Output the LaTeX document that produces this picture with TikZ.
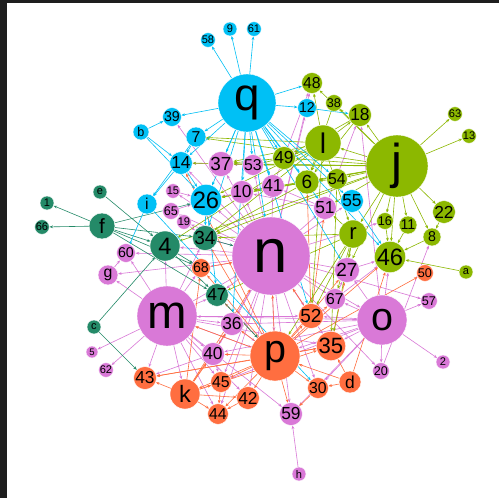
\documentclass[tikz,border=0pt]{standalone}
\usepackage{fontspec}
\setmainfont{Liberation Sans}
\usetikzlibrary{arrows.meta}
\pgfdeclarelayer{back}
\pgfdeclarelayer{bg}
\pgfsetlayers{back,bg,main}
\definecolor{cy}{RGB}{0,192,245}
\definecolor{gr}{RGB}{140,184,0}
\definecolor{dg}{RGB}{36,138,104}
\definecolor{pk}{RGB}{217,121,215}
\definecolor{orr}{RGB}{255,110,64}
\definecolor{frame}{RGB}{30,30,30}
\tikzset{
  nd/.style={circle,draw=white,line width=0.4pt,inner sep=0pt,text=black},
  ed/.style={line width=0.6pt,-{Stealth[length=3.5pt,width=2.8pt]}}
}
\newcommand\nd[5]{\pgfmathsetmacro\fsz{#4*1.58}\node[nd,fill=#5,minimum size=#4*2pt,font=\fontsize{\fsz pt}{\fsz pt}\selectfont] (v#1) at (#2,#3) {#1};}
\begin{document}
\begin{tikzpicture}[x=1pt,y=-1pt]
\useasboundingbox (0,0) rectangle (499,498);
\begin{pgfonlayer}{back}
\fill[white] (0,0) rectangle (499,498);
\fill[frame] (0,0) rectangle (499,3);
\fill[frame] (0,0) rectangle (7,498);
\end{pgfonlayer}
% cyan
\nd{q}{247}{103}{29}{cy}
\nd{58}{208}{40}{7}{cy}
\nd{9}{230}{29}{7}{cy}
\nd{61}{254}{29}{7}{cy}
\nd{39}{172}{117}{9}{cy}
\nd{b}{141}{132}{8}{cy}
\nd{7}{196}{137}{10}{cy}
\nd{14}{181}{163}{11}{cy}
\nd{26}{206}{200}{15}{cy}
\nd{i}{147}{204}{10}{cy}
\nd{12}{307}{108}{9}{cy}
\nd{55}{352}{201}{11}{cy}
% green
\nd{l}{323}{143}{18}{gr}
\nd{j}{397}{166}{31}{gr}
\nd{48}{312}{83}{10}{gr}
\nd{38}{334}{103}{8}{gr}
\nd{18}{360}{115}{11}{gr}
\nd{63}{455}{114}{7}{gr}
\nd{13}{469}{136}{7}{gr}
\nd{49}{284}{158}{11}{gr}
\nd{6}{307}{182}{12}{gr}
\nd{54}{337}{179}{10}{gr}
\nd{r}{353}{234}{14}{gr}
\nd{16}{385}{221}{8}{gr}
\nd{11}{408}{225}{9}{gr}
\nd{22}{444}{212}{11}{gr}
\nd{8}{432}{237}{9}{gr}
\nd{46}{390}{257}{15}{gr}
\nd{a}{466}{272}{7}{gr}
% dark green
\nd{f}{102}{226}{13}{dg}
\nd{1}{47}{203}{7}{dg}
\nd{66}{42}{227}{7}{dg}
\nd{e}{100}{192}{7}{dg}
\nd{4}{165}{246}{15}{dg}
\nd{34}{205}{238}{12}{dg}
\nd{47}{217}{295}{11}{dg}
\nd{c}{94}{327}{7}{dg}
% pink
\nd{n}{271}{256}{39}{pk}
\nd{m}{167}{316}{30}{pk}
\nd{o}{382}{320}{25}{pk}
\nd{37}{221}{164}{12}{pk}
\nd{53}{253}{165}{10}{pk}
\nd{41}{273}{186}{11}{pk}
\nd{10}{242}{192}{11}{pk}
\nd{15}{173}{191}{7}{pk}
\nd{65}{171}{211}{8}{pk}
\nd{19}{184}{222}{7}{pk}
\nd{51}{325}{208}{11}{pk}
\nd{27}{347}{270}{12}{pk}
\nd{67}{335}{299}{10}{pk}
\nd{57}{429}{301}{8}{pk}
\nd{2}{443}{362}{7}{pk}
\nd{20}{381}{371}{8}{pk}
\nd{59}{291}{414}{11}{pk}
\nd{h}{299}{474}{7}{pk}
\nd{60}{126}{253}{9}{pk}
\nd{g}{108}{275}{10}{pk}
\nd{5}{92}{352}{6}{pk}
\nd{62}{106}{370}{7}{pk}
\nd{36}{232}{324}{11}{pk}
\nd{40}{213}{354}{11}{pk}
% orange
\nd{p}{275}{356}{25}{orr}
\nd{k}{185}{394}{15}{orr}
\nd{52}{311}{316}{12}{orr}
\nd{35}{331}{346}{14}{orr}
\nd{d}{350}{382}{11}{orr}
\nd{30}{318}{388}{10}{orr}
\nd{43}{145}{378}{11}{orr}
\nd{45}{221}{382}{10}{orr}
\nd{44}{218}{414}{10}{orr}
\nd{42}{248}{398}{11}{orr}
\nd{68}{201}{268}{9}{orr}
\nd{50}{425}{273}{8}{orr}
\begin{pgfonlayer}{bg}
\foreach \a/\b in {m/5,m/62,m/43,m/g,m/60,m/4,m/40,m/36,m/45,m/44,m/k,m/47,m/68,m/34,m/n,m/p,m/35,m/52,m/42,m/59,
 n/37,n/10,n/41,n/53,n/12,n/51,n/27,n/67,n/52,n/35,n/o,n/57,n/20,n/30,n/59,n/42,n/45,n/44,n/40,n/36,n/47,n/68,n/4,n/34,n/19,n/65,n/15,n/60,n/26,n/39,n/16,n/14,n/p,n/g,n/55,n/48,
 o/57,o/2,o/20,o/35,o/30,o/p,o/27,o/67,o/52,o/m,o/36,o/40,o/18,o/46,o/59,o/45,
 51/10,51/41,10/26,37/14,41/10,53/37,65/26,g/60,40/36,40/45,40/43,36/p,h/59,27/46,67/46,20/8,67/27,19/34,15/26,41/48,51/18}
  \draw[ed,pk] (v\a) -- (v\b);
\foreach \a/\b in {p/52,p/35,p/30,p/59,p/42,p/45,p/44,p/40,p/43,p/36,p/n,p/27,p/46,p/50,p/67,p/68,p/47,p/k,p/m,p/14,p/34,
 k/43,k/44,k/45,k/40,k/42,k/68,k/n,k/35,k/36,52/51,52/6,52/n,35/43,35/27,d/30,d/35,d/46,d/p,30/59,42/44,45/44,68/n}
  \draw[ed,orr] (v\a) -- (v\b);
\foreach \a/\b in {j/63,j/13,j/18,j/48,j/38,j/l,j/49,j/6,j/54,j/r,j/16,j/11,j/22,j/8,j/46,j/51,j/27,j/7,j/14,j/37,j/26,j/10,j/34,j/4,j/53,
 l/48,l/18,l/7,l/49,l/6,l/37,l/34,l/26,l/4,l/r,l/52,18/6,18/49,49/37,49/53,6/10,6/26,6/34,54/35,54/6,38/6,
 r/27,r/67,r/52,r/35,r/34,r/47,r/p,r/51,16/46,11/46,8/46,a/46,22/8}
  \draw[ed,gr] (v\a) -- (v\b);
\foreach \a/\b in {f/1,f/66,f/4,f/34,f/68,f/47,f/26,e/4,c/4,c/43,4/47,4/68,34/n,47/p}
  \draw[ed,dg] (v\a) -- (v\b);
\foreach \a/\b in {q/58,q/9,q/61,q/39,q/7,q/14,q/37,q/53,q/10,q/41,q/26,q/34,q/48,q/12,q/49,q/6,q/54,q/55,q/51,q/46,q/27,q/36,q/52,q/n,
 b/39,b/14,b/26,7/14,7/i,14/i,14/26,i/60,i/30,26/34,26/47,12/18,55/46}
  \draw[ed,cy] (v\a) -- (v\b);
\end{pgfonlayer}
\end{tikzpicture}
\end{document}
